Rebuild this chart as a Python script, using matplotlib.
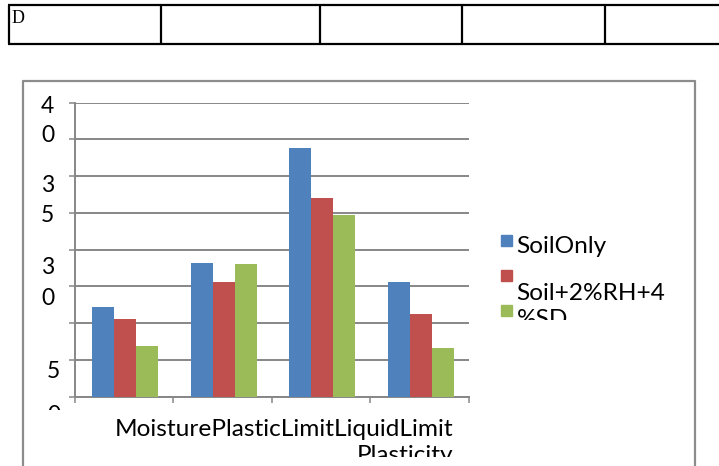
import numpy as np
import matplotlib.pyplot as plt
from matplotlib.patches import Rectangle
from matplotlib.transforms import Bbox, TransformedBbox

categories = ["Moisture", "PlasticLimit", "LiquidLimit", "Plasticity"]
series_names = ["SoilOnly", "Soil+2%RH+4%SD", "Soil+4%RH+8%SD"]
soil_only = [12.2, 18.2, 33.8, 15.6]
soil_2rh = [10.6, 15.6, 27.0, 11.2]
soil_4rh = [6.9, 18.0, 24.7, 6.6]
y_ticks = [0, 5, 10, 15, 20, 25, 30, 35, 40]
table_cells = ["D", "", "", "", ""]

colors = ["#4F81BD", "#C0504D", "#9BBB59"]
grey = "#878787"
W, H = 719, 466
FS = 17.6

plt.rcParams['font.family'] = ['Lato', 'DejaVu Sans']

fig = plt.figure(figsize=(W / 100, H / 100), dpi=100)


def px_rect(x0, y0, x1, y1):
    return [x0 / W, 1 - y1 / H, (x1 - x0) / W, (y1 - y0) / H]


# bar chart area
ax = fig.add_axes(px_rect(74.5, 102.7, 468.5, 396.5))
x = np.arange(len(categories))
bw = 0.223
for i, vals in enumerate([soil_only, soil_2rh, soil_4rh]):
    ax.bar(x + (i - 1) * bw + 0.015, vals, width=bw, color=colors[i], zorder=3)

ax.set_xlim(-0.5, len(categories) - 0.5)
ax.set_ylim(0, 40)
ax.set_yticks(y_ticks)
ax.set_yticklabels([])
ax.set_xticks(np.arange(-0.5, len(categories), 1))
ax.set_xticklabels([])
ax.yaxis.grid(True, color=grey, lw=1.4)
ax.set_axisbelow(True)
ax.tick_params(length=4.3, width=1.1, color=grey, direction='out')
for s in ['top', 'right']:
    ax.spines[s].set_visible(False)
for s in ['left', 'bottom']:
    ax.spines[s].set_color(grey)
    ax.spines[s].set_linewidth(1.4)

# page overlay in pixel units
ov = fig.add_axes([0, 0, 1, 1])
ov.set_xlim(0, W)
ov.set_ylim(H, 0)
ov.axis('off')


def clip_to(t, x0, y0, x1, y1):
    t.set_clip_box(TransformedBbox(Bbox.from_extents(x0, y0, x1, y1), ov.transData))
    t.set_clip_on(True)


# table row above the chart
ov.hlines([5, 44.3], 8, W + 5, color='black', lw=1.6)
ov.vlines([9, 161, 320, 462, 605], 5, 44.3, color='black', lw=1.6)
ov.text(11.5, 23.3, table_cells[0], family='Liberation Serif', fontsize=13,
        va='baseline', ha='left')

# chart frame
ov.plot([23.3, 23.3, 695.3, 695.3], [H + 5, 81, 81, H + 5], color='#8c8c8c', lw=1.6)

# wrapped value labels on the y axis
y_labels = [("4", 47.7, 106.3), ("0", 47.7, 136), ("3", 47.7, 185.5), ("5", 47.7, 215.5),
            ("3", 47.7, 267.5), ("0", 47.7, 298.3), ("5", 53.5, 371.3), ("0", 53.5, 415.7)]
for s, lx, ly in y_labels:
    t = ov.text(lx, ly, s, fontsize=16.5, ha='center', va='center')
    clip_to(t, 0, 0, 70, 410)

# category labels run together
line1 = "".join(categories[:3])
line2 = categories[3]
t1 = ov.text(453, 436, line1, fontsize=FS, ha='right', va='baseline')
t2 = ov.text(453, 462, line2, fontsize=FS, ha='right', va='baseline')
for t in (t1, t2):
    clip_to(t, 80, 380, 690, 457.3)

# legend
sq_y = [235.3, 270, 305.3]
for c, sy in zip(colors, sq_y):
    ov.add_patch(Rectangle((501, sy), 11, 11, color=c))
legend_lines = [(series_names[0], 253), (series_names[1][:11], 300),
                (series_names[1][11:], 326), (series_names[2], 352)]
for s, ly in legend_lines:
    t = ov.text(516.7, ly, s, fontsize=FS, ha='left', va='baseline')
    clip_to(t, 480, 200, 690, 320)

fig.savefig('out.png', dpi=100)
